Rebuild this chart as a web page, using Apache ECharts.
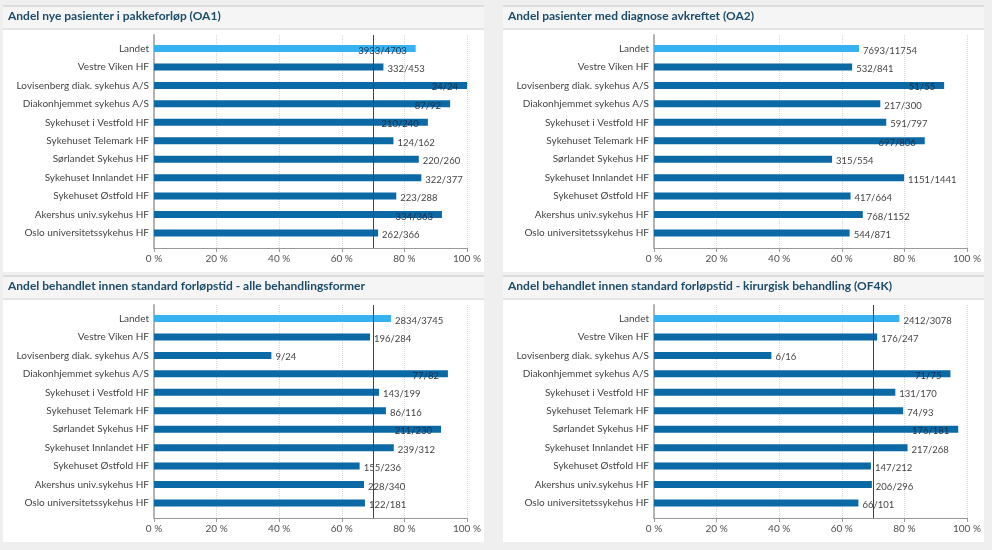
<!DOCTYPE html>
<html><head><meta charset="utf-8">
<script src="https://cdn.jsdelivr.net/npm/echarts@6/dist/echarts.min.js"></script>
<style>html,body{margin:0;padding:0;background:#efefef}#c{width:992px;height:550px}</style>
</head><body><div id="c"></div>
<script>
const categories = ['Landet','Vestre Viken HF','Lovisenberg diak. sykehus A/S','Diakonhjemmet sykehus A/S','Sykehuset i Vestfold HF','Sykehuset Telemark HF','Sørlandet Sykehus HF','Sykehuset Innlandet HF','Sykehuset Østfold HF','Akershus univ.sykehus HF','Oslo universitetssykehus HF'];
const titles = ['Andel nye pasienter i pakkeforløp (OA1)','Andel pasienter med diagnose avkreftet (OA2)','Andel behandlet innen standard forløpstid - alle behandlingsformer','Andel behandlet innen standard forløpstid - kirurgisk behandling (OF4K)'];
const xTicks = [0,20,40,60,80,100];

const oa1Values = [83.6,73.3,100,94.6,87.5,76.5,84.6,85.4,77.4,92.0,71.6];
const oa1Labels = ['3933/4703','332/453','24/24','87/92','210/240','124/162','220/260','322/377','223/288','334/363','262/366'];
const oa2Values = [65.5,63.3,92.7,72.3,74.2,86.5,56.9,79.9,62.8,66.7,62.5];
const oa2Labels = ['7693/11754','532/841','51/55','217/300','591/797','697/806','315/554','1151/1441','417/664','768/1152','544/871'];
const ofAllValues = [75.7,69.0,37.5,93.9,71.9,74.1,91.7,76.6,65.7,67.1,67.4];
const ofAllLabels = ['2834/3745','196/284','9/24','77/82','143/199','86/116','211/230','239/312','155/236','228/340','122/181'];
const of4kValues = [78.4,71.3,37.5,94.7,77.1,79.6,97.2,81.0,69.3,69.6,65.3];
const of4kLabels = ['2412/3078','176/247','6/16','71/75','131/170','74/93','176/181','217/268','147/212','206/296','66/101'];
const targetLines = [70, null, 70, 70];

const panelValues = [oa1Values, oa2Values, ofAllValues, of4kValues];
const panelLabels = [oa1Labels, oa2Labels, ofAllLabels, of4kLabels];
// which labels sit inside the bar end (style, not data)
const insideLabels = [[0,2,3,4,9],[2,5],[3,6],[3,6]];

const FONT = "Lato, 'Liberation Sans', sans-serif";
const offsets = [[0,0],[500,0],[0,270],[500,270]];
const LANDET_COLOR = '#36b2f1';
const BAR_COLOR = '#0b69a6';

const grid = [], xAxis = [], yAxis = [], series = [], title = [], graphic = [];
offsets.forEach(([ox, oy], p) => {
  graphic.push({type:'rect', z:-10, shape:{x:ox+3, y:oy+5, width:481, height:24}, style:{fill:'#f5f5f5'}});
  graphic.push({type:'rect', z:-9, shape:{x:ox+3, y:oy+5, width:481, height:2}, style:{fill:'#dcdcdc'}});
  graphic.push({type:'rect', z:-9, shape:{x:ox+3, y:oy+28, width:481, height:2}, style:{fill:'#e4e4e4'}});
  graphic.push({type:'rect', z:-10, shape:{x:ox+3, y:oy+30, width:481, height:242}, style:{fill:'#ffffff'}});

  title.push({text: titles[p], left: ox+8, top: oy+10, padding:0,
    textStyle:{fontFamily:FONT, fontSize:12, fontWeight:'bold', color:'#1c4c69'}});

  const gf = grid.length;
  grid.push({left: ox+154, top: oy+35, width: 313, height: 213});
  xAxis.push({type:'value', gridIndex:gf, min:0, max:100, interval:20,
    axisLine:{show:true, lineStyle:{color:'#9a9a9a', width:1}},
    axisTick:{show:true, length:4, lineStyle:{color:'#9a9a9a'}},
    axisLabel:{formatter:'{value} %', fontFamily:FONT, fontSize:10, color:'#505050', margin:6},
    splitLine:{show:true, lineStyle:{color:'#d6d6d6', type:'dotted', width:1}}});
  yAxis.push({type:'value', gridIndex:gf, min:0, max:1,
    axisLine:{show:true, lineStyle:{color:'#b3b3b3', width:2}},
    axisTick:{show:false}, axisLabel:{show:false}, splitLine:{show:false}});
  series.push({type:'line', xAxisIndex:gf, yAxisIndex:gf, data:[], z:1, silent:true,
    markLine: targetLines[p] == null ? undefined : {silent:true, symbol:'none', label:{show:false},
      lineStyle:{color:'#8e1f2e', type:'solid', width:1}, data:[{xAxis: targetLines[p]}]}});

  const gb = grid.length;
  grid.push({left: ox+154, top: oy+39.3, width: 313, height: 202.9});
  xAxis.push({type:'value', gridIndex:gb, min:0, max:100, show:false});
  yAxis.push({type:'category', gridIndex:gb, data:categories, inverse:true,
    axisLine:{show:false}, axisTick:{show:false}, splitLine:{show:false},
    axisLabel:{fontFamily:FONT, fontSize:10, color:'#444', margin:5}});
  const vals = panelValues[p], labs = panelLabels[p];
  series.push({type:'bar', xAxisIndex:gb, yAxisIndex:gb, barWidth:7, z:3,
    data: vals.map((v, i) => {
      const inside = insideLabels[p].includes(i);
      return {value: v,
        itemStyle:{color: i === 0 ? LANDET_COLOR : BAR_COLOR},
        label:{show:true, position: inside ? 'insideRight' : 'right', distance: inside ? 9 : 4,
          offset:[0,2], formatter: labs[i], fontFamily:FONT, fontSize:9.5,
          color: inside ? '#1b2f45' : '#444'}};
    })});
});

const chart = echarts.init(document.getElementById('c'), null, {renderer:'canvas'});
chart.setOption({backgroundColor:'#efefef', animation:false, title, grid, xAxis, yAxis, series, graphic});
</script></body></html>
